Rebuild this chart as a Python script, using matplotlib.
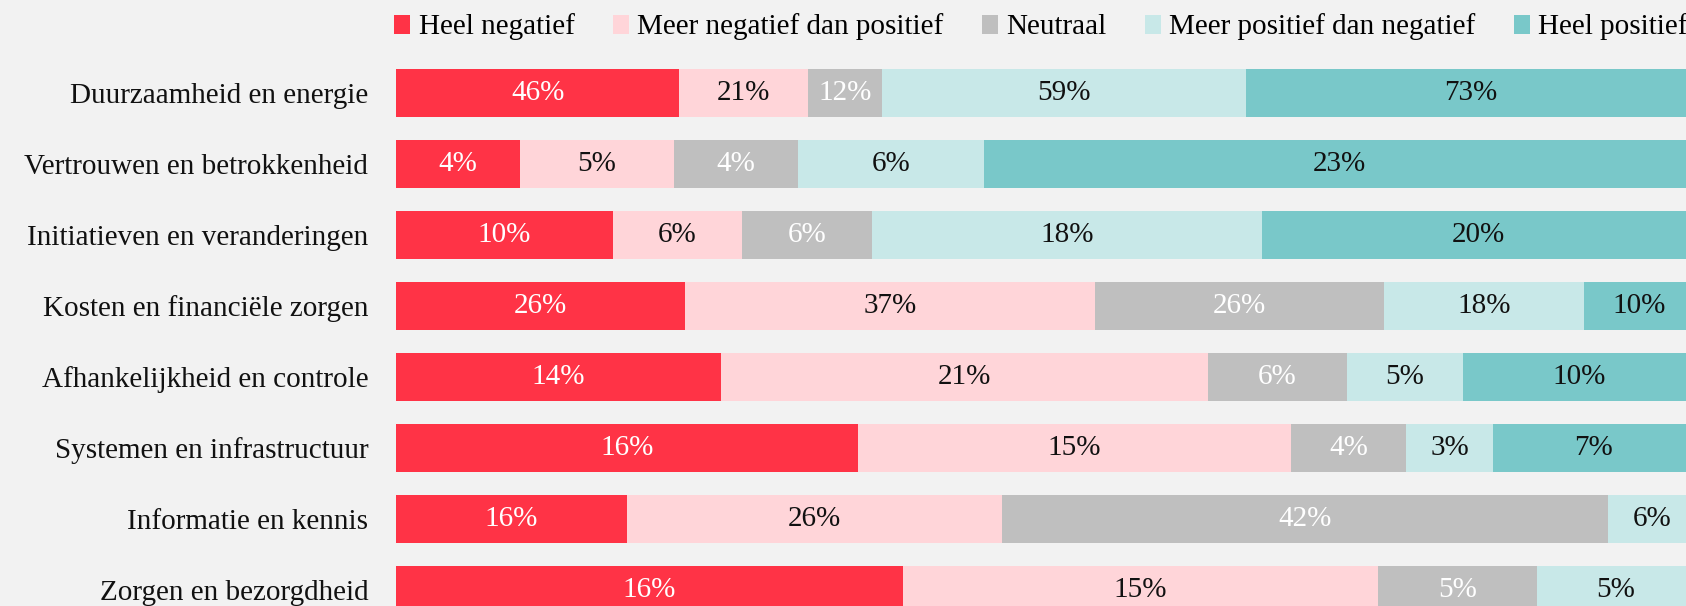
import numpy as np
import matplotlib
matplotlib.use("Agg")
import matplotlib.pyplot as plt
from matplotlib.patches import Patch

plt.rcParams['font.family'] = ['Liberation Serif', 'DejaVu Serif']

categories = [
    "Duurzaamheid en energie",
    "Vertrouwen en betrokkenheid",
    "Initiatieven en veranderingen",
    "Kosten en financiële zorgen",
    "Afhankelijkheid en controle",
    "Systemen en infrastructuur",
    "Informatie en kennis",
    "Zorgen en bezorgdheid",
]
series_names = [
    "Heel negatief",
    "Meer negatief dan positief",
    "Neutraal",
    "Meer positief dan negatief",
    "Heel positief",
]
heel_negatief = [46, 4, 10, 26, 14, 16, 16, 16]
meer_negatief = [21, 5, 6, 37, 21, 15, 26, 15]
neutraal = [12, 4, 6, 26, 6, 4, 42, 5]
meer_positief = [59, 6, 18, 18, 5, 3, 6, 5]
heel_positief = [73, 23, 20, 10, 10, 7, 0, 0]

colors = ["#FF3346", "#FFD5D9", "#BFBFBF", "#C8E8E8", "#79C8C9"]
text_colors = ["white", "#111111", "white", "#111111", "#111111"]

values = np.array([heel_negatief, meer_negatief, neutraal, meer_positief, heel_positief], dtype=float)
shares = values / values.sum(axis=0)

bg = "#F2F2F2"
W, H = 1686, 606
fs = 21
fig = plt.figure(figsize=(W / 100, H / 100), dpi=100, facecolor=bg)
# bars run a little past the right edge of the canvas
ax = fig.add_axes([396 / W, 0, 1299 / W, 1])
ax.set_facecolor(bg)

y = np.arange(len(categories))
left = np.zeros(len(categories))
for k in range(len(series_names)):
    ax.barh(y, shares[k], left=left, height=0.662, color=colors[k], linewidth=0)
    for i in range(len(categories)):
        if values[k, i] > 0:
            ax.text(left[i] + shares[k, i] / 2, y[i], f"{values[k, i]:.0f}%",
                    ha="center", va="center", fontsize=fs, color=text_colors[k])
    left += shares[k]

ax.set_xlim(0, 1)
ax.set_ylim((H - 93) / 71, -93 / 71)
ax.set_yticks(y, categories, fontsize=fs, color="#111111")
ax.tick_params(axis="y", length=0, pad=20)
ax.set_xticks([])
for s in ax.spines.values():
    s.set_visible(False)

handles = [Patch(facecolor=c, edgecolor="none") for c in colors]
fig.legend(handles, series_names, loc="center", bbox_to_anchor=(1041 / W, 1 - 27 / H),
           ncol=5, frameon=False, fontsize=fs, handlelength=0.55, handleheight=0.65,
           handletextpad=0.3, columnspacing=1.3, borderaxespad=0)

fig.savefig("out.png", dpi=100, facecolor=bg)
